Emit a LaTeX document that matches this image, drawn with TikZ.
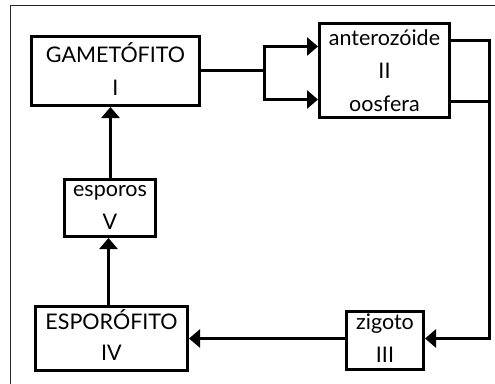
\documentclass[tikz,border=0pt]{standalone}
\usepackage{fontspec}
\setmainfont{Lato}
\usetikzlibrary{arrows.meta}
\begin{document}
\begin{tikzpicture}[x=1pt,y=-1pt,
  stage/.style={draw=black,line width=3pt,fill=white,inner sep=0pt},
  lbl/.style={font=\fontsize{21.5}{21.5}\selectfont,inner sep=0pt,anchor=base},
  link/.style={line width=3pt,-{Triangle[length=11pt,width=18pt]}},
  plain/.style={line width=3pt}]
\useasboundingbox (0,0) rectangle (495,383);
% page frame
\draw[line width=1pt,draw=black!85] (10.5,395) -- (10.5,5.5) -- (505,5.5);
% boxes
\node[stage,minimum width=168pt,minimum height=69pt] (gam) at (115.5,71) {};
\node[stage,minimum width=130pt,minimum height=94pt] (ant) at (384.5,70.5) {};
\node[stage,minimum width=77pt,minimum height=58pt] (zig) at (385,340.5) {};
\node[stage,minimum width=152pt,minimum height=64pt] (esf) at (111.5,338.5) {};
\node[stage,minimum width=91pt,minimum height=57pt] (spo) at (110,208) {};
% texts
\node[lbl] (tgam) at (115.5,62.5) {GAMETÓFITO};
\node[lbl] (tgamn) at (115.5,95.5) {I};
\node[lbl] (tant) at (384.5,45) {anterozóide};
\node[lbl] (tantn) at (384.5,78.5) {II};
\node[lbl] (toos) at (384.5,111) {oosfera};
\node[lbl] (tzig) at (385,329.5) {zigoto};
\node[lbl] (tzign) at (385,362) {III};
\node[lbl] (tesf) at (111.5,329) {ESPORÓFITO};
\node[lbl] (tesfn) at (111.5,360.5) {IV};
\node[lbl] (tspo) at (110,196.5) {esporos};
\node[lbl] (tspon) at (110,229) {V};
% junctions
\coordinate (fork) at (264.5,70.5);
\coordinate (ftop) at (264.5,46.5);
\coordinate (fbot) at (264.5,99.5);
\coordinate (rt) at (489.5,40.5);
\coordinate (rb) at (489.5,101.5);
\coordinate (down) at (489.5,338.5);
% connectors
\draw[plain] (gam.east |- fork) -- (fork);
\draw[plain,line cap=rect] (ftop) -- (fbot);
\draw[link] (ftop) -- (ant.west |- ftop);
\draw[link] (fbot) -- (ant.west |- fbot);
\draw[plain,line cap=rect] (ant.east |- rt) -- (rt) -- (down);
\draw[plain] (ant.east |- rb) -- (rb);
\draw[link] (down) -- (zig.east |- down);
\draw[link] (zig.west |- down) -- (esf.east |- down);
\draw[link] (esf.north -| 108.5,0) -- (spo.south -| 108.5,0);
\draw[link] (spo.north -| 110.5,0) -- (gam.south -| 110.5,0);
\end{tikzpicture}
\end{document}
